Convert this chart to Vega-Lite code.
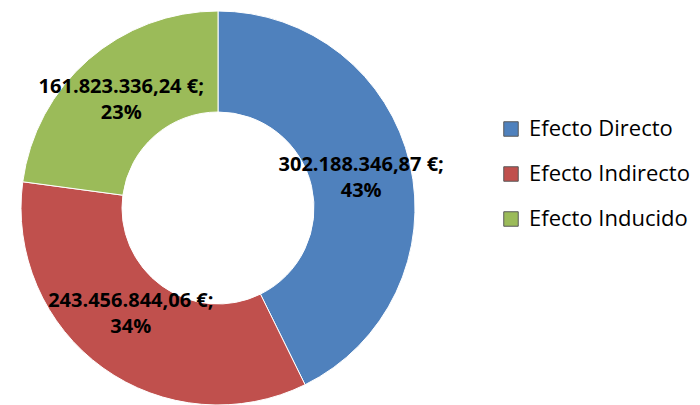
{
  "$schema": "https://vega.github.io/schema/vega-lite/v6.json",
  "width": 436,
  "height": 416,
  "autosize": {"type": "pad"},
  "padding": 0,
  "background": "white",
  "config": {"view": {"stroke": null}, "font": "Open Sans"},
  "data": {"values": [
    {"efecto": "Efecto Directo", "valor": 302188346.87, "label": ["302.188.346,87 €;", "43%"], "orden": 1},
    {"efecto": "Efecto Indirecto", "valor": 243456844.06, "label": ["243.456.844,06 €;", "34%"], "orden": 2},
    {"efecto": "Efecto Inducido", "valor": 161823336.24, "label": ["161.823.336,24 €;", "23%"], "orden": 3}
  ]},
  "encoding": {
    "theta": {"field": "valor", "type": "quantitative", "stack": true},
    "order": {"field": "orden", "type": "ordinal"}
  },
  "layer": [
    {
      "mark": {"type": "arc", "outerRadius": 197, "innerRadius": 96, "stroke": "#ffffff", "strokeWidth": 1},
      "encoding": {
        "color": {
          "field": "efecto", "type": "nominal",
          "sort": ["Efecto Directo", "Efecto Indirecto", "Efecto Inducido"],
          "scale": {"domain": ["Efecto Directo", "Efecto Indirecto", "Efecto Inducido"], "range": ["#4F81BD", "#C0504D", "#9BBB59"]},
          "legend": {
            "title": null, "orient": "none", "legendX": 500, "legendY": 118,
            "symbolType": "square", "symbolSize": 210, "symbolStrokeWidth": 1,
            "symbolStrokeColor": "#5a5a5a",
            "labelFontSize": 22, "labelFont": "Open Sans", "labelColor": "#000",
            "rowPadding": 23, "labelOffset": 7, "labelLimit": 300
          }
        }
      }
    },
    {
      "mark": {"type": "text", "radius": 147, "dy": -10, "fontSize": 20, "fontWeight": "bold", "color": "#000", "lineHeight": 26, "align": "center", "baseline": "middle"},
      "encoding": {"text": {"condition": {"test": "datum.orden != 2", "field": "label"}, "value": ""}}
    },
    {
      "mark": {"type": "text", "radius": 134, "dx": -9, "dy": -16, "fontSize": 20, "fontWeight": "bold", "color": "#000", "lineHeight": 26, "align": "center", "baseline": "middle"},
      "encoding": {"text": {"condition": {"test": "datum.orden == 2", "field": "label"}, "value": ""}}
    }
  ]
}
